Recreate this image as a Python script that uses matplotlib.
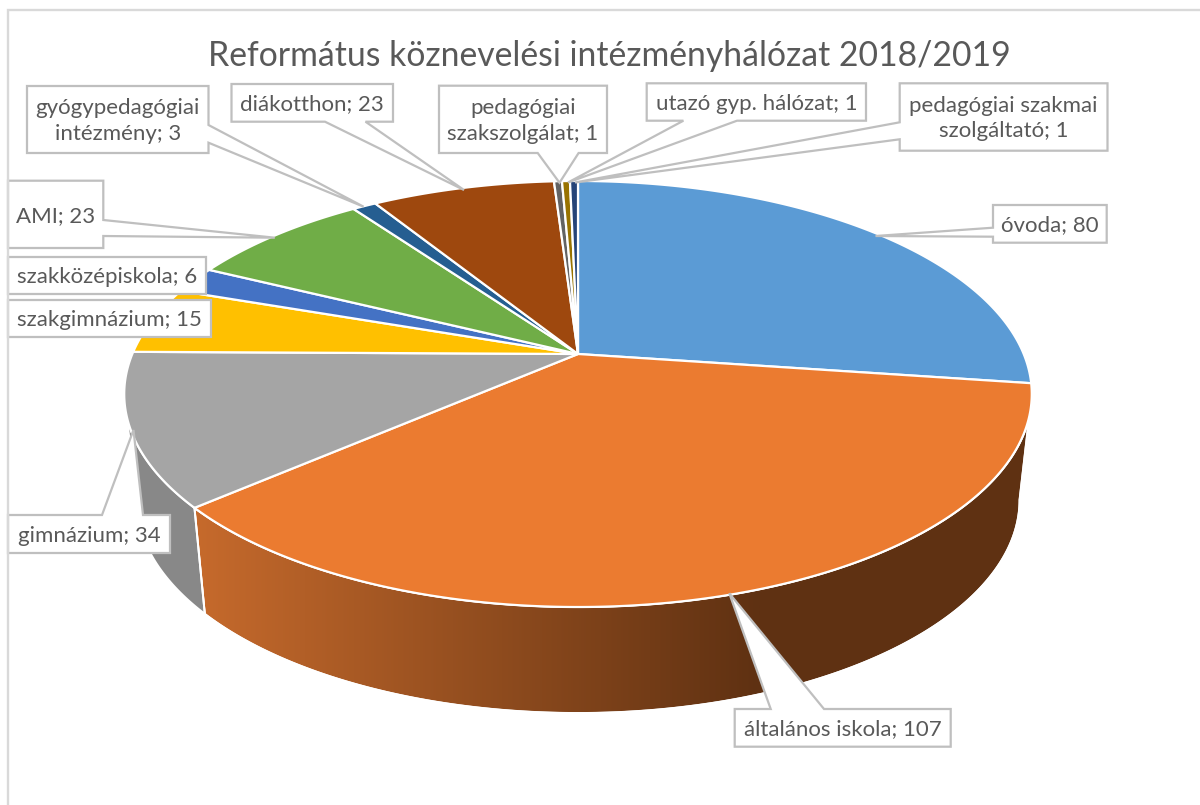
#!/usr/bin/env python3
"""Exploded-free 3D style pie of the Reformed school network, drawn by hand."""
import numpy as np
import matplotlib
matplotlib.use("Agg")
import matplotlib.pyplot as plt
from matplotlib.colors import LinearSegmentedColormap
from matplotlib.patches import Polygon

plt.rcParams["font.family"] = ["Lato", "DejaVu Sans"]

TITLE = "Református köznevelési intézményhálózat 2018/2019"
names = ["óvoda", "általános iskola", "gimnázium", "szakgimnázium", "szakközépiskola", "AMI",
         "gyógypedagógiai\nintézmény", "diákotthon", "pedagógiai\nszakszolgálat",
         "utazó gyp. hálózat", "pedagógiai szakmai\nszolgáltató"]
values = [80, 107, 34, 15, 6, 23, 3, 23, 1, 1, 1]
colors = ["#5B9BD5", "#EB7B30", "#A5A5A5", "#FFC000", "#4472C4", "#70AD47",
          "#255E91", "#9E480E", "#636363", "#997300", "#264478"]

# pie geometry in pixels, the perspective squeezes the back half
CX, CY = 578, 354
B, A, K = 445.7, 205.5, 0.1878
DEPTH, SHRINK = 106, 0.973

# label boxes: left, right, top, bottom, pointer side, base a, base b, tip x, tip y
callouts = [
    (993, 1106.7, 205, 242.7, "left", 227.7, 236.7, 875.5, 236),
    (734.7, 950.7, 709, 746.7, "top", 770.7, 824, 729.3, 593.3),
    (8, 170, 515, 553, "top", 102, 143, 133.5, 430),
    (8, 211.3, 300, 337.3, None, 0, 0, 0, 0),
    (8, 205.7, 257.3, 294.3, None, 0, 0, 0, 0),
    (8, 103.3, 180.7, 248, "right", 220, 236, 274.8, 237.7),
    (27, 208.5, 86, 153, "right", 125, 142.7, 363.6, 206.7),
    (231.5, 393, 84, 121.7, "bottom", 325, 365.5, 464, 190),
    (439, 607, 85.7, 153, "bottom", 537.7, 578.6, 559.5, 182.7),
    (646.7, 866, 83.3, 120.7, "bottom", 683.4, 737, 568, 182.5),
    (899.7, 1107.5, 83.3, 150.7, "left", 122.3, 139.3, 575, 182.5),
]


def top_rim(theta):
    x, y = np.sin(theta), -np.cos(theta)
    den = 1 - K * y
    return CX + B * x / den, CY + A * y / den


def low_rim(theta):
    x, y = top_rim(theta)
    return CX + SHRINK * (x - CX), y + DEPTH


def callout_path(left, right, top, bottom, side, a, b, tx, ty):
    if side == "top":
        return [(left, top), (a, top), (tx, ty), (b, top), (right, top), (right, bottom), (left, bottom)]
    if side == "right":
        return [(left, top), (right, top), (right, a), (tx, ty), (right, b), (right, bottom), (left, bottom)]
    if side == "bottom":
        return [(left, top), (right, top), (right, bottom), (b, bottom), (tx, ty), (a, bottom), (left, bottom)]
    if side == "left":
        return [(left, top), (right, top), (right, bottom), (left, bottom), (left, b), (tx, ty), (left, a)]
    return [(left, top), (right, top), (right, bottom), (left, bottom)]


def wall_poly(t0, t1):
    ts = np.linspace(t0, t1, 300)
    xt, yt = top_rim(ts)
    xl, yl = low_rim(ts)
    return np.column_stack([np.r_[xt, xl[::-1]], np.r_[yt, yl[::-1]]])


fig = plt.figure(figsize=(12, 8.05), dpi=100)
ax = fig.add_axes([0, 0, 1, 1])
ax.axis("off")

edges = 2 * np.pi * np.r_[0, np.cumsum(values)] / sum(values)

# walls, only orange and gray face the viewer
ts = np.linspace(edges[1], edges[2], 600)
t_right = ts[np.argmax(top_rim(ts)[0])]
orange_wall = Polygon(wall_poly(t_right, edges[2]), closed=True, fc="none", ec="white", lw=1.2, zorder=2,
                      transform=ax.transData)
ax.add_patch(orange_wall)
cmap = LinearSegmentedColormap.from_list("wall", ["#C66A2C", "#5F3112"])
img = ax.imshow(np.linspace(0, 1, 256)[None, :], extent=(195, 760, 805, 0), cmap=cmap, aspect="auto", zorder=1)
flat = ax.imshow([[0]], extent=(760, 1100, 805, 0), cmap=LinearSegmentedColormap.from_list("d", ["#5F3112", "#5F3112"]),
                 aspect="auto", zorder=1)
img.set_clip_path(orange_wall)
flat.set_clip_path(orange_wall)

ts = np.linspace(edges[2], edges[3], 600)
t_left = ts[np.argmin(top_rim(ts)[0])]
ax.add_patch(Polygon(wall_poly(edges[2], t_left), closed=True, fc="#888888", ec="white", lw=1.4, zorder=2))
ax.add_patch(Polygon(wall_poly(t_right, edges[2]), closed=True, fc="none", ec="white", lw=1.4, zorder=2))

# top face
for i, col in enumerate(colors):
    ts = np.linspace(edges[i], edges[i + 1], 200)
    xs, ys = top_rim(ts)
    ax.fill(np.r_[CX, xs], np.r_[CY, ys], fc=col, ec="white", lw=1.6, zorder=3)

# label boxes with their pointers
for name, val, c in zip(names, values, callouts):
    ax.add_patch(Polygon(callout_path(*c), closed=True, fc="white", ec="#BFBFBF", lw=1.6, zorder=4))
    ax.text((c[0] + c[1]) / 2, (c[2] + c[3]) / 2 + 1.5, f"{name}; {val}", ha="center", va="center",
            fontsize=16, color="#595959", zorder=5, linespacing=1.36)

# chart area frame runs off the crop
ax.plot([8.4, 8.4, 1200], [805, 10, 10], color="#D9D9D9", lw=1.7, zorder=6, solid_joinstyle="miter")

ax.text(609, 56, TITLE, ha="center", va="center", fontsize=24.3, color="#595959", zorder=5)

ax.set_xlim(0, 1200)
ax.set_ylim(805, 0)
fig.savefig("out.png", dpi=100)
